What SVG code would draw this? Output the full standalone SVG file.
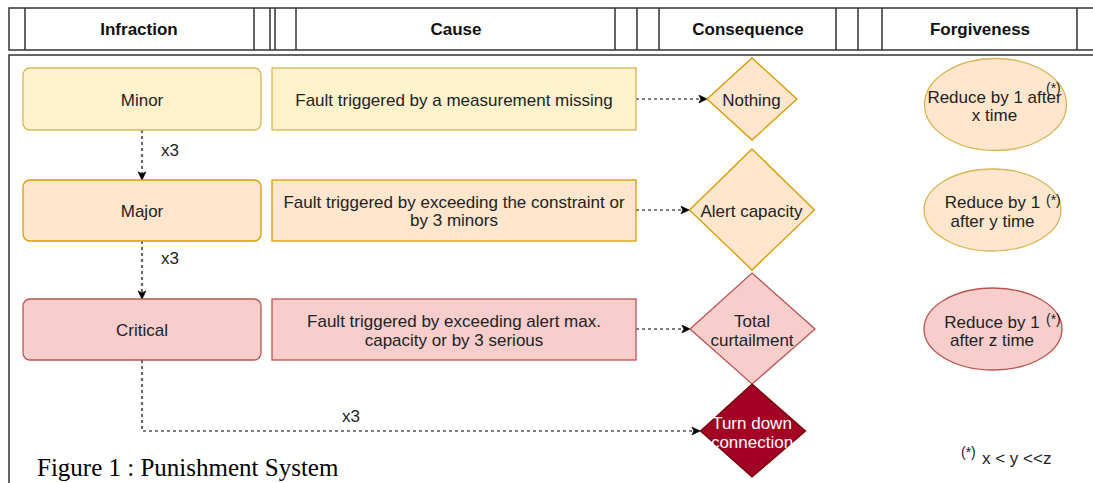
<svg xmlns="http://www.w3.org/2000/svg" width="1093" height="483" viewBox="0 0 1093 483">
<style>
  text { font-family: "Liberation Sans", Arial, Helvetica, sans-serif; font-size: 17px; fill: #222; }
  .hdr { font-weight: bold; text-anchor: middle; fill: #111; }
  .c { text-anchor: middle; }
  .sup { font-size: 14px; }
  .frame { fill: none; stroke: #333; stroke-width: 1.5; }
  .yellow { fill: #fff2cc; stroke: #d6b656; stroke-width: 1.3; }
  .orange { fill: #ffe6cc; stroke: #d79b00; stroke-width: 1.3; }
  .red { fill: #f8cecc; stroke: #b85450; stroke-width: 1.3; }
  .dark { fill: #a20025; stroke: #6f0000; stroke-width: 1.3; }
  .white { fill: #ffffff; }
  .edge { fill: none; stroke: #000; stroke-width: 1.2; stroke-dasharray: 3 3; }
  .caption { font-family: "Liberation Serif", "Times New Roman", serif; font-size: 25px; fill: #000; }
</style>
<defs>
  <marker id="arrow" markerUnits="userSpaceOnUse" markerWidth="10" markerHeight="10" viewBox="0 0 10 10" refX="9" refY="5" orient="auto">
    <path d="M1,1.2 L9,5 L1,8.8 L3,5 Z" fill="#000" stroke="#000" stroke-width="0.8"/>
  </marker>
</defs>
<rect width="1093" height="483" fill="#ffffff"/>

<g id="header">
  <rect class="frame" x="9" y="8" width="1100" height="42"/>
  <path class="frame" d="M25,8V50 M254,8V50 M270,8V50 M275,8V50 M296,8V50 M615,8V50 M637,8V50 M659,8V50 M836,8V50 M858,8V50 M882,8V50 M1077,8V50"/>
  <text class="hdr" x="139" y="35">Infraction</text>
  <text class="hdr" x="456" y="35">Cause</text>
  <text class="hdr" x="748" y="35">Consequence</text>
  <text class="hdr" x="980" y="35">Forgiveness</text>
</g>

<g id="pool">
  <rect class="frame" x="9" y="55" width="1100" height="440"/>
</g>

<g id="connectors">
  <path class="edge" d="M142,130 V180" marker-end="url(#arrow)"/>
  <path class="edge" d="M142,241 V299" marker-end="url(#arrow)"/>
  <path class="edge" d="M142,360 V431 H700" marker-end="url(#arrow)"/>
  <path class="edge" d="M636,99 H707" marker-end="url(#arrow)"/>
  <path class="edge" d="M636,210 H689" marker-end="url(#arrow)"/>
  <path class="edge" d="M636,329 H690" marker-end="url(#arrow)"/>
  <text x="161" y="156">x3</text>
  <text x="161" y="264">x3</text>
  <text x="342" y="422">x3</text>
</g>

<g id="minor">
  <rect class="yellow" x="23" y="68" width="238" height="62" rx="7"/>
  <text class="c" x="142" y="105.5">Minor</text>
</g>
<g id="major">
  <rect class="orange" x="23" y="180" width="238" height="61" rx="7"/>
  <text class="c" x="142" y="216.5">Major</text>
</g>
<g id="critical">
  <rect class="red" x="23" y="299" width="238" height="61" rx="7"/>
  <text class="c" x="142" y="336">Critical</text>
</g>

<g id="cause-minor">
  <rect class="yellow" x="272" y="68" width="364" height="62"/>
  <text class="c" x="454" y="105.5">Fault triggered by a measurement missing</text>
</g>
<g id="cause-major">
  <rect class="orange" x="272" y="180" width="364" height="61"/>
  <text class="c" x="454" y="207.5">Fault triggered by exceeding the constraint or</text>
  <text class="c" x="454" y="226">by 3 minors</text>
</g>
<g id="cause-critical">
  <rect class="red" x="272" y="299" width="364" height="61"/>
  <text class="c" x="454" y="327">Fault triggered by exceeding alert max.</text>
  <text class="c" x="454" y="345.5">capacity or by 3 serious</text>
</g>

<g id="nothing">
  <polygon class="orange" points="752,58 797,99 752,140 707,99"/>
  <text class="c" x="751.5" y="105.5">Nothing</text>
</g>
<g id="alert-capacity">
  <polygon class="orange" points="752,149 814.5,210 752,270 689.5,210"/>
  <text class="c" x="751.5" y="217">Alert capacity</text>
</g>
<g id="total-curtailment">
  <polygon class="red" points="752,273 815,329 752,384 690,329"/>
  <text class="c" x="752" y="327">Total</text>
  <text class="c" x="752" y="345.5">curtailment</text>
</g>
<g id="turn-down">
  <polygon class="dark" points="752,384 805.5,431 752,477 700.5,431"/>
  <text class="c white" x="752" y="429">Turn down</text>
  <text class="c white" x="752" y="448">connection</text>
</g>

<g id="forgive-minor">
  <ellipse class="orange" style="stroke:#d6b656" cx="995.5" cy="104.5" rx="71" ry="46"/>
  <text class="c" x="994.5" y="102.5">Reduce by 1 after</text>
  <text class="c" x="994.5" y="120.5">x time</text>
  <text class="sup" x="1046" y="93">(*)</text>
</g>
<g id="forgive-major">
  <ellipse class="orange" style="stroke:#d6b656" cx="992.5" cy="210" rx="68.5" ry="41"/>
  <text class="c" x="992.5" y="208">Reduce by 1</text>
  <text class="c" x="992.5" y="226.5">after y time</text>
  <text class="sup" x="1046" y="205">(*)</text>
</g>
<g id="forgive-critical">
  <ellipse class="red" cx="993" cy="329" rx="69" ry="41"/>
  <text class="c" x="992" y="327.5">Reduce by 1</text>
  <text class="c" x="992" y="346">after z time</text>
  <text class="sup" x="1046" y="324">(*)</text>
</g>

<g id="footnote">
  <text class="sup" x="961" y="457">(*)</text>
  <text x="982" y="464">x &lt; y &lt;&lt;z</text>
</g>

<text class="caption" x="37" y="476">Figure 1 : Punishment System</text>
</svg>
